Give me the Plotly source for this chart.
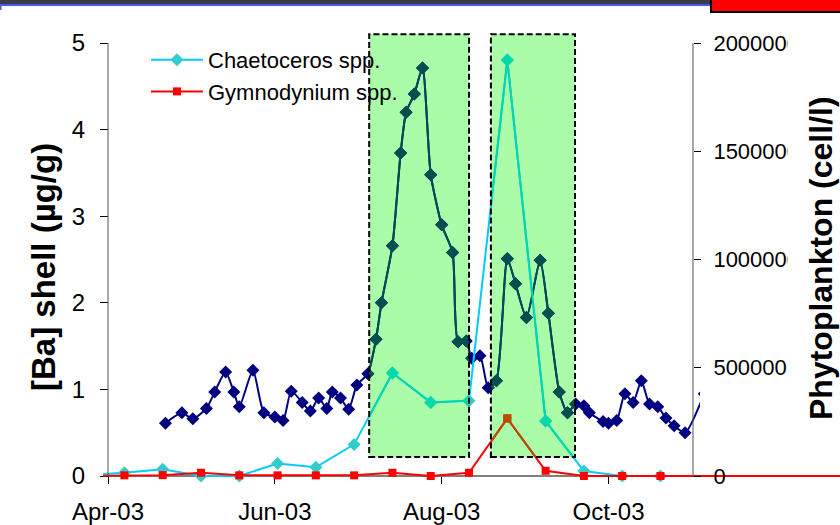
import pandas as pd
import plotly.graph_objects as go

# ---------------------------------------------------------------- data
# Barium content of the shell (µg/g), high-resolution profile
ba_dates = [
    "2003-04-22", "2003-04-28", "2003-05-02", "2003-05-07", "2003-05-10",
    "2003-05-14", "2003-05-17", "2003-05-19", "2003-05-24", "2003-05-28",
    "2003-06-01", "2003-06-04", "2003-06-07", "2003-06-11", "2003-06-14",
    "2003-06-17", "2003-06-20", "2003-06-22", "2003-06-25", "2003-06-28",
    "2003-07-01", "2003-07-05", "2003-07-08", "2003-07-10", "2003-07-14",
    "2003-07-17", "2003-07-19", "2003-07-22", "2003-07-25", "2003-07-28",
    "2003-08-01", "2003-08-05", "2003-08-07", "2003-08-10", "2003-08-12",
    "2003-08-15", "2003-08-18", "2003-08-21", "2003-08-25", "2003-08-28",
    "2003-09-01", "2003-09-06", "2003-09-09", "2003-09-13", "2003-09-16",
    "2003-09-19", "2003-09-22", "2003-09-24", "2003-09-29", "2003-10-01",
    "2003-10-04", "2003-10-07", "2003-10-10", "2003-10-13", "2003-10-16",
    "2003-10-19", "2003-10-22", "2003-10-25", "2003-10-29", "2003-11-05",
]
ba_values = [
    0.61, 0.73, 0.66, 0.78, 0.97,
    1.20, 0.97, 0.80, 1.22, 0.73,
    0.68, 0.64, 0.98, 0.85, 0.75,
    0.90, 0.78, 0.97, 0.90, 0.77,
    1.05, 1.18, 1.58, 2.00, 2.66,
    3.73, 4.20, 4.41, 4.71, 3.48,
    2.90, 2.58, 1.55, 1.56, 1.36,
    1.39, 1.02, 1.10, 2.51, 2.22,
    1.83, 2.49, 1.88, 0.97, 0.73,
    0.83, 0.81, 0.73, 0.63, 0.61,
    0.64, 0.95, 0.85, 1.10, 0.83,
    0.80, 0.67, 0.58, 0.50, 0.95,
]

# Phytoplankton counts (cell/l), fortnightly sampling
phyto_dates = [
    "2003-03-24", "2003-04-07", "2003-04-21", "2003-05-05", "2003-05-19",
    "2003-06-02", "2003-06-16", "2003-06-30", "2003-07-14", "2003-07-28",
    "2003-08-11", "2003-08-25", "2003-09-08", "2003-09-22", "2003-10-06",
    "2003-10-20", "2004-01-05",
]
chaetoceros = [
    5000, 15000, 31000, 0, 0,
    58000, 40000, 146000, 476000, 340000,
    348000, 1921000, 254000, 23000, 0,
    0, 0,
]
gymnodinium = [
    0, 3000, 4000, 15000, 3000,
    3000, 3000, 3000, 15000, 0,
    15000, 266000, 24000, 0, 0,
    0, 0,
]

# Bloom windows (shaded) and their vertical extent in Ba units
bloom_starts = ["2003-07-05 12:00", "2003-08-19"]
bloom_ends = ["2003-08-11", "2003-09-18 18:00"]
bloom_ba_span = [0.22, 5.10]

# Axis ticks
x_tick_dates = ["2003-04-01", "2003-06-01", "2003-08-01", "2003-10-01"]
x_tick_text = ["Apr-03", "Jun-03", "Aug-03", "Oct-03"]
ba_ticks = [0, 1, 2, 3, 4, 5]
phyto_ticks = [0, 500000, 1000000, 1500000, 2000000]

# ---------------------------------------------------------------- geometry
W, H = 840, 525
BASE = pd.Timestamp("2003-04-01")
X_BASE = 108.0          # pixel column of 1 Apr 2003
PX_PER_DAY = 2.735
Y_ZERO = 476.0          # pixel row of the zero line
PX_PER_BA = 86.6
PHYTO_PER_BA = phyto_ticks[-1] / ba_ticks[-1]

PLOT_LEFT, BA_RIGHT, PHYTO_RIGHT = 103, 700, 840
PLOT_TOP, PLOT_BOTTOM = 28, 482
LEFT_AXIS_X, RIGHT_AXIS_X = 108, 693


def fx(px):
    return px / W


def fy(py):
    return 1 - py / H


def date_at(px):
    return str(BASE + pd.Timedelta(days=(px - X_BASE) / PX_PER_DAY))


def px_at(d):
    return X_BASE + (pd.Timestamp(d) - BASE) / pd.Timedelta(days=1) * PX_PER_DAY


def ba_at(py):
    return (Y_ZERO - py) / PX_PER_BA


def py_at(v):
    return Y_ZERO - v * PX_PER_BA


FONT = "Liberation Sans, Arial, sans-serif"
NAVY = "#000080"
CYAN_LINE = "#00CCFF"
CYAN_MARK = "#33CCCC"
RED = "#FF0000"
BOX_FILL = "#AAFCA8"
IN_BOX = {"ba": "#005050", "chaeto": "#00D8AA", "gymno": "#B05000"}

ba_range = [ba_at(PLOT_BOTTOM), ba_at(PLOT_TOP)]
phyto_range = [v * PHYTO_PER_BA for v in ba_range]

fig = go.Figure()


def ba_trace(color, xa, ya):
    return go.Scatter(
        x=ba_dates, y=ba_values, mode="lines+markers",
        line=dict(color=color, width=2, shape="spline", smoothing=0.6),
        marker=dict(symbol="diamond", size=10, color=color),
        xaxis=xa, yaxis=ya, showlegend=False, hoverinfo="skip",
    )


def chaeto_trace(line, mark, xa, ya, legend):
    return go.Scatter(
        x=phyto_dates, y=chaetoceros, mode="lines+markers", name="Chaetoceros spp.",
        line=dict(color=line, width=2),
        marker=dict(symbol="diamond", size=10, color=mark),
        xaxis=xa, yaxis=ya, showlegend=legend, hoverinfo="skip",
    )


def gymno_trace(color, xa, ya, legend):
    return go.Scatter(
        x=phyto_dates, y=gymnodinium, mode="lines+markers", name="Gymnodynium spp.",
        line=dict(color=color, width=2),
        marker=dict(symbol="square", size=8, color=color),
        xaxis=xa, yaxis=ya, showlegend=legend, hoverinfo="skip",
    )


# main series
fig.add_trace(ba_trace(NAVY, "x", "y"))
fig.add_trace(chaeto_trace(CYAN_LINE, CYAN_MARK, "x2", "y2", True))
fig.add_trace(gymno_trace(RED, "x2", "y2", True))

layout_axes = {}
layout_axes["xaxis"] = dict(
    domain=[fx(PLOT_LEFT), fx(BA_RIGHT)],
    range=[date_at(PLOT_LEFT), date_at(BA_RIGHT)],
    anchor="free", position=fy(Y_ZERO), type="date",
    tickvals=x_tick_dates, ticktext=x_tick_text,
    ticks="outside", ticklen=7, tickcolor="black", tickwidth=1,
    showline=False, showgrid=False, zeroline=False, automargin=False,
    tickfont=dict(family=FONT, size=24, color="black"), ticklabelstandoff=7,
)
layout_axes["yaxis"] = dict(
    domain=[fy(PLOT_BOTTOM), fy(PLOT_TOP)], range=ba_range,
    anchor="free", position=fx(LEFT_AXIS_X),
    tickvals=ba_ticks, ticks="outside", ticklen=8, tickcolor="black",
    showline=False, showgrid=False, zeroline=False, automargin=False,
    tickfont=dict(family=FONT, size=24, color="black"), ticklabelstandoff=10,
)
layout_axes["xaxis2"] = dict(
    domain=[fx(PLOT_LEFT), fx(PHYTO_RIGHT)],
    range=[date_at(PLOT_LEFT), date_at(PHYTO_RIGHT)],
    anchor="y2", type="date", visible=False, automargin=False,
)
layout_axes["yaxis2"] = dict(
    domain=[fy(PLOT_BOTTOM), fy(PLOT_TOP)], range=phyto_range,
    anchor="free", position=fx(RIGHT_AXIS_X), side="right",
    tickvals=phyto_ticks, tickformat="d",
    ticks="outside", ticklen=7, tickcolor="black",
    showline=False, showgrid=False, zeroline=False, automargin=False,
    tickfont=dict(family=FONT, size=22, color="black"), ticklabelstandoff=8,
)
# inner half of the crossing ticks on the right axis
layout_axes["yaxis3"] = dict(
    overlaying="y2", range=phyto_range,
    anchor="free", position=fx(RIGHT_AXIS_X), side="right",
    tickvals=phyto_ticks, showticklabels=False,
    ticks="inside", ticklen=7, tickcolor="black",
    showline=False, showgrid=False, zeroline=False, automargin=False,
)

shapes = []

# bloom windows: each gets its own clipped subplot so the series inside are recoloured
next_x, next_y = 3, 4
for start, end in zip(bloom_starts, bloom_ends):
    xa, ya_ba, ya_ph = f"x{next_x}", f"y{next_y}", f"y{next_y + 1}"
    x_dom = [fx(px_at(start)), fx(px_at(end))]
    y_dom = [fy(py_at(bloom_ba_span[0])), fy(py_at(bloom_ba_span[1]))]
    layout_axes[f"xaxis{next_x}"] = dict(
        domain=x_dom, range=[str(pd.Timestamp(start)), str(pd.Timestamp(end))],
        type="date", anchor=ya_ba, visible=False, automargin=False,
    )
    layout_axes[f"yaxis{next_y}"] = dict(
        domain=y_dom, range=bloom_ba_span, anchor=xa, visible=False, automargin=False,
    )
    layout_axes[f"yaxis{next_y + 1}"] = dict(
        domain=y_dom, range=[v * PHYTO_PER_BA for v in bloom_ba_span],
        anchor=xa, visible=False, automargin=False,
    )
    fig.add_trace(ba_trace(IN_BOX["ba"], xa, ya_ba))
    fig.add_trace(chaeto_trace(IN_BOX["chaeto"], IN_BOX["chaeto"], xa, ya_ph, False))
    fig.add_trace(gymno_trace(IN_BOX["gymno"], xa, ya_ph, False))
    shapes.append(dict(
        type="rect", xref=f"{xa} domain", yref=f"{ya_ba} domain",
        x0=0, x1=1, y0=0, y1=1, fillcolor=BOX_FILL, line=dict(width=0), layer="below",
    ))
    shapes.append(dict(
        type="rect", xref=f"{xa} domain", yref=f"{ya_ba} domain",
        x0=0, x1=1, y0=0, y1=1, fillcolor="rgba(0,0,0,0)",
        line=dict(color="black", width=2, dash="6px,3px"), layer="above",
    ))
    next_x += 1
    next_y += 2

# axis lines
AXIS_COLOR = "#555555"
shapes += [
    dict(type="line", xref="paper", yref="y", x0=fx(LEFT_AXIS_X), x1=fx(LEFT_AXIS_X),
         y0=ba_ticks[0], y1=ba_ticks[-1], line=dict(color=AXIS_COLOR, width=1)),
    dict(type="line", xref="paper", yref="y", x0=fx(RIGHT_AXIS_X), x1=fx(RIGHT_AXIS_X),
         y0=ba_ticks[0], y1=ba_ticks[-1], line=dict(color=AXIS_COLOR, width=1)),
    dict(type="line", xref="paper", yref="y", x0=fx(LEFT_AXIS_X), x1=fx(RIGHT_AXIS_X),
         y0=0, y1=0, line=dict(color="black", width=1), layer="below"),
]

# slide furniture: header band and red tab, label mask on the right
shapes += [
    dict(type="rect", xref="paper", yref="paper", x0=0, x1=1, y0=fy(4), y1=1.01,
         fillcolor="#3a3d48", line=dict(width=0)),
    dict(type="line", xref="paper", yref="paper", x0=0, x1=1, y0=fy(5), y1=fy(5),
         line=dict(color="#4a5ae0", width=2)),
    dict(type="line", xref="paper", yref="paper", x0=fx(0.5), x1=fx(0.5), y0=fy(4), y1=fy(10),
         line=dict(color="#4a5ae0", width=2)),
    dict(type="rect", xref="paper", yref="paper", x0=fx(711), x1=1.01, y0=fy(12), y1=1.01,
         fillcolor="#FF0000", line=dict(color="black", width=2)),
    dict(type="rect", xref="paper", yref="paper", x0=fx(788), x1=fx(806), y0=fy(460), y1=fy(20),
         fillcolor="white", line=dict(width=0), layer="above"),
]

annotations = [
    dict(text="<b>[Ba] shell (µg/g)</b>", xref="paper", yref="paper",
         x=fx(43), y=fy(267), textangle=-90, showarrow=False,
         font=dict(family=FONT, size=33, color="black"), xanchor="center", yanchor="middle"),
    dict(text="<b>Phytoplankton (cell/l)</b>", xref="paper", yref="paper",
         x=fx(821), y=fy(258), textangle=-90, showarrow=False,
         font=dict(family=FONT, size=32, color="black"), xanchor="center", yanchor="middle"),
]

fig.update_layout(
    template="none",
    width=W, height=H, margin=dict(l=0, r=0, t=0, b=0, autoexpand=False),
    paper_bgcolor="white", plot_bgcolor="rgba(0,0,0,0)",
    shapes=shapes, annotations=annotations,
    legend=dict(x=fx(146), y=fy(39), xanchor="left", yanchor="top",
                bgcolor="rgba(0,0,0,0)", font=dict(family=FONT, size=22, color="black"),
                itemwidth=52, tracegroupgap=0),
    **layout_axes,
)

fig.write_html("out.html")
